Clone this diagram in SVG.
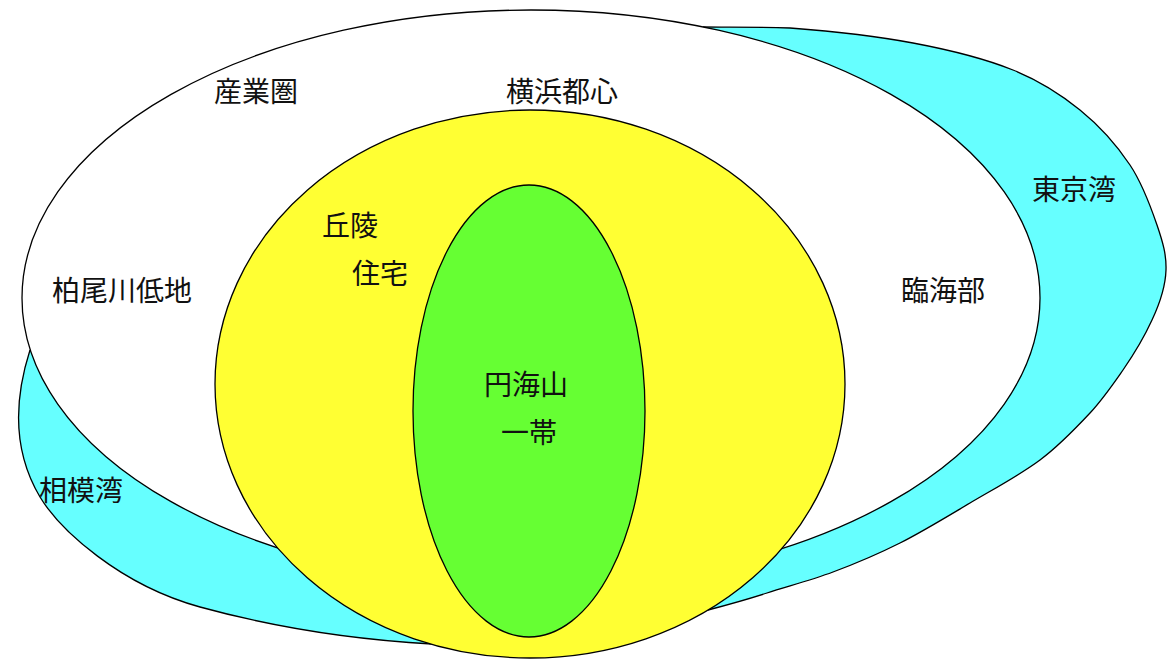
<svg xmlns="http://www.w3.org/2000/svg" width="1174" height="660" viewBox="0 0 1174 660">
  <style>
    .bay { fill: #66FFFF; stroke: none; }
    .edge { fill: none; stroke: #000; stroke-width: 1.3; }
    .zone { stroke: #000; stroke-width: 1.3; }
    .lbl { font-family: "Noto Sans CJK JP", "Noto Sans CJK SC", sans-serif; font-size: 28px; fill: #111; }
  </style>
  <rect width="1174" height="660" fill="#fff"/>
  <g id="tokyo-bay">
    <path class="bay" d="M703,27 C732,27.3 755,27 790,28 C825,30.7 875.8,36 913,43 C950.2,50 985.2,58.8 1013,70 C1040.8,81.2 1060.5,94.2 1080,110 C1099.5,125.8 1117.2,145.8 1130,165 C1142.8,184.2 1151,207.5 1157,225 C1163,242.5 1166.5,255 1166,270 C1165.5,286 1160,303 1152,320 C1144.5,336.5 1134,354 1123,370 C1112.5,385 1103,399 1090,413 C1076,428 1060,445 1040,460 C1020,475 993.3,489.2 970,503 C946.7,516.8 922.8,531.5 900,543 C877.2,554.5 855.2,563.7 833,572 C810.8,580.3 788,586.2 767,593 C746,599.8 727,605 708,610 L600,450 L600,100 Z"/>
    <path class="edge" d="M703,27 C732,27.3 755,27 790,28 C825,30.7 875.8,36 913,43 C950.2,50 985.2,58.8 1013,70 C1040.8,81.2 1060.5,94.2 1080,110 C1099.5,125.8 1117.2,145.8 1130,165 C1142.8,184.2 1151,207.5 1157,225 C1163,242.5 1166.5,255 1166,270 C1165.5,286 1160,303 1152,320 C1144.5,336.5 1134,354 1123,370 C1112.5,385 1103,399 1090,413 C1076,428 1060,445 1040,460 C1020,475 993.3,489.2 970,503 C946.7,516.8 922.8,531.5 900,543 C877.2,554.5 855.2,563.7 833,572 C810.8,580.3 788,586.2 767,593 C746,599.8 727,605 708,610"/>
  </g>
  <g id="sagami-bay">
    <path class="bay" d="M30,350 C14,400 12,450 40,497 C60,530 120,585 200,607 C280,629 360,640 432,644 L300,450 Z"/>
    <path class="edge" d="M30,350 C14,400 12,450 40,497 C60,530 120,585 200,607 C280,629 360,640 432,644"/>
  </g>
  <g id="industrial-zone">
    <ellipse class="zone" cx="531" cy="298" rx="509" ry="288" fill="#fff"/>
  </g>
  <g id="hill-residential">
    <ellipse class="zone" cx="530" cy="384" rx="315" ry="274" fill="#FFFF33"/>
  </g>
  <g id="enkaizan">
    <ellipse class="zone" cx="529" cy="411" rx="116" ry="226" fill="#66FF33"/>
  </g>
  <g id="labels">
    <text class="lbl" x="214" y="102">産業圏</text>
    <text class="lbl" x="506" y="102">横浜都心</text>
    <text class="lbl" x="322" y="236">丘陵</text>
    <text class="lbl" x="352" y="284">住宅</text>
    <text class="lbl" x="52" y="301">柏尾川低地</text>
    <text class="lbl" x="901" y="301">臨海部</text>
    <text class="lbl" x="1032" y="200">東京湾</text>
    <text class="lbl" x="39" y="501">相模湾</text>
    <text class="lbl" x="484" y="395">円海山</text>
    <text class="lbl" x="501" y="443">一帯</text>
  </g>
</svg>
